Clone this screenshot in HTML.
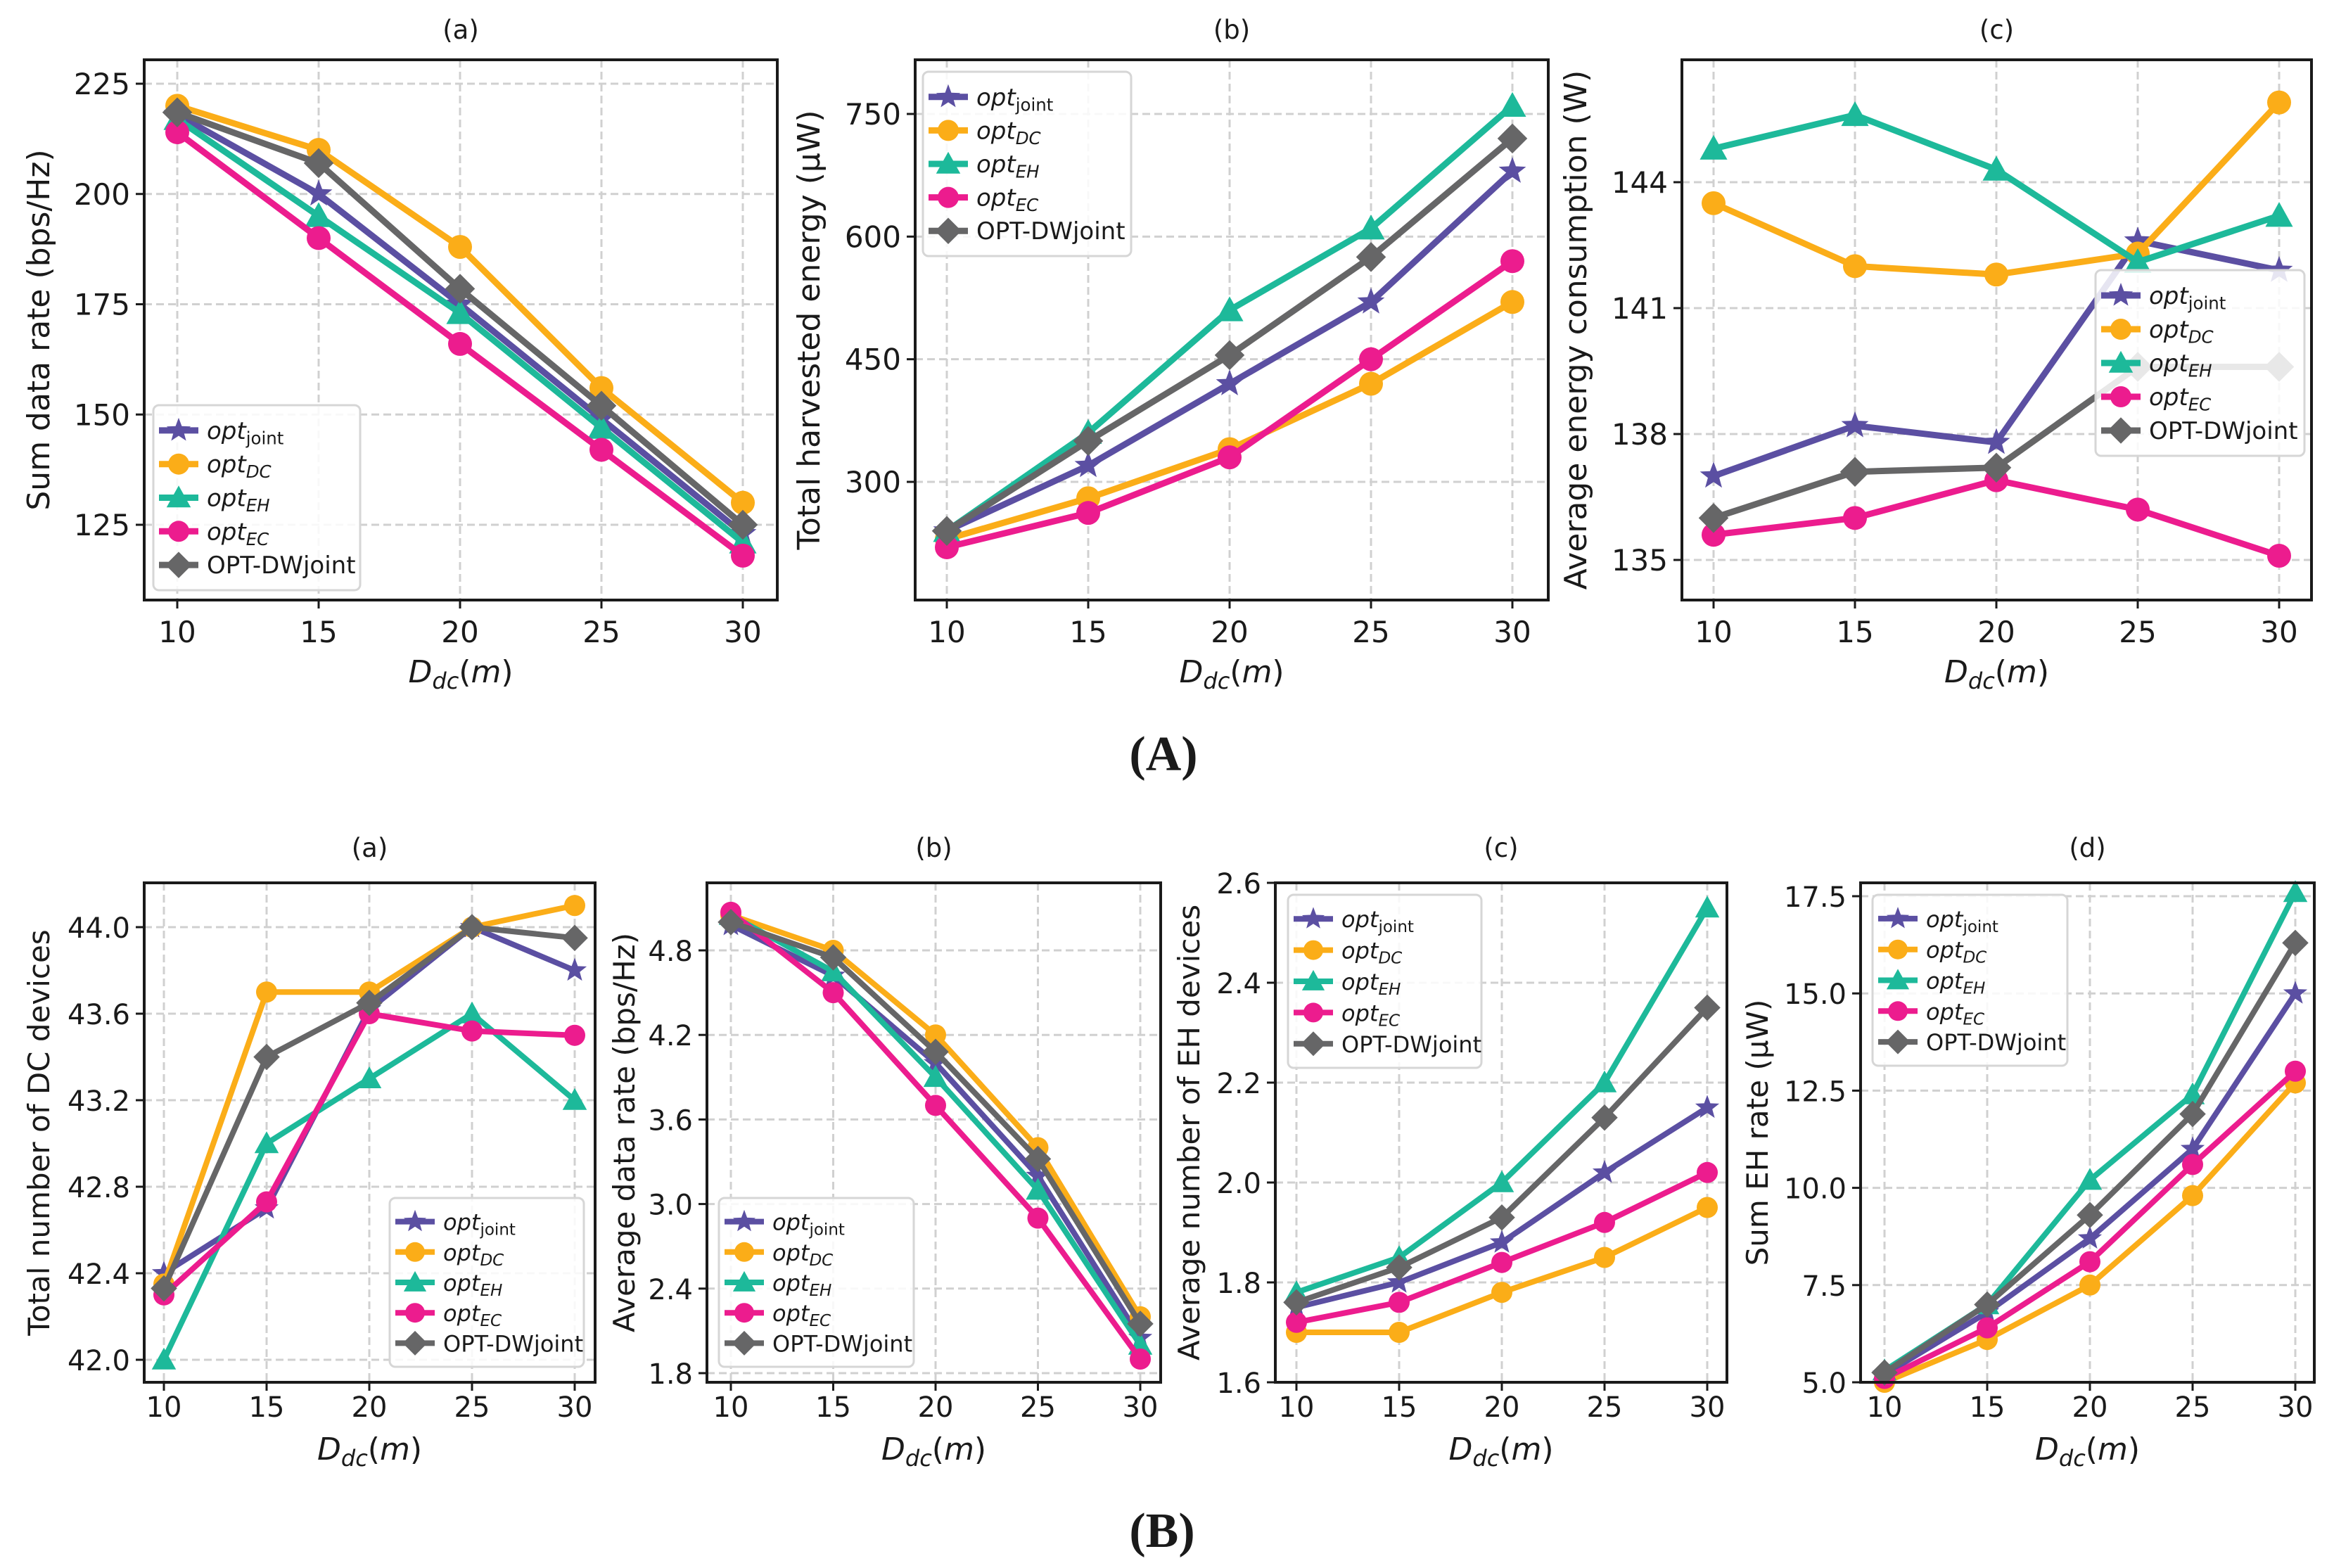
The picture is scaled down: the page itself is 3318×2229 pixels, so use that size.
<!DOCTYPE html>
<html><head><meta charset="utf-8"><style>
html,body{margin:0;padding:0;background:#fff}
svg{display:block}
text{font-family:"DejaVu Sans","Liberation Sans",sans-serif;fill:#1a1a1a}
</style></head><body>
<svg id="fig" xmlns="http://www.w3.org/2000/svg" width="3318" height="2229" viewBox="0 0 3318 2229">
<rect width="3318" height="2229" fill="#fff"/>
<text x="1654" y="1095" text-anchor="middle" style="font-family:'Liberation Serif',serif;font-weight:bold;font-size:70px">(A)</text>
<text x="1652" y="2199" text-anchor="middle" style="font-family:'Liberation Serif',serif;font-weight:bold;font-size:70px">(B)</text>
</svg>
<script>
const xCats=[10,15,20,25,30];
// Panel A(a) sum data rate
const aa_joint=[218,200,175,149,123];
const aa_dc=[220,210,188,156,130];
const aa_eh=[217,195,173,147,121];
const aa_ec=[214,190,166,142,118];
const aa_dw=[218.5,207,178.5,152,125];
const aa_ticks=[125,150,175,200,225];
// Panel A(b) harvested energy
const ab_joint=[240,320,420,520,680];
const ab_dc=[230,280,340,420,520];
const ab_eh=[240,360,510,610,760];
const ab_ec=[220,262,330,450,570];
const ab_dw=[240,350,455,575,720];
const ab_ticks=[300,450,600,750];
// Panel A(c) energy consumption
const ac_joint=[137.0,138.2,137.8,142.6,141.9];
const ac_dc=[143.5,142.0,141.8,142.3,145.9];
const ac_eh=[144.8,145.6,144.3,142.1,143.2];
const ac_ec=[135.6,136.0,136.9,136.2,135.1];
const ac_dw=[136.0,137.1,137.2,139.6,139.6];
const ac_ticks=[135,138,141,144];
// Panel B(a) DC devices
const ba_joint=[42.4,42.7,43.62,44.0,43.8];
const ba_dc=[42.35,43.7,43.7,44.0,44.1];
const ba_eh=[42.0,43.0,43.3,43.6,43.2];
const ba_ec=[42.3,42.73,43.6,43.52,43.5];
const ba_dw=[42.33,43.4,43.65,44.0,43.95];
const ba_ticks=[42.0,42.4,42.8,43.2,43.6,44.0];
// Panel B(b) average data rate
const bb_joint=[4.98,4.62,4.0,3.2,2.05];
const bb_dc=[5.05,4.8,4.2,3.4,2.2];
const bb_eh=[5.05,4.65,3.9,3.1,2.0];
const bb_ec=[5.07,4.5,3.7,2.9,1.9];
const bb_dw=[5.0,4.75,4.08,3.32,2.15];
const bb_ticks=[1.8,2.4,3.0,3.6,4.2,4.8];
// Panel B(c) EH devices
const bc_joint=[1.75,1.80,1.88,2.02,2.15];
const bc_dc=[1.70,1.70,1.78,1.85,1.95];
const bc_eh=[1.78,1.85,2.0,2.2,2.55];
const bc_ec=[1.72,1.76,1.84,1.92,2.02];
const bc_dw=[1.76,1.83,1.93,2.13,2.35];
const bc_ticks=[1.6,1.8,2.0,2.2,2.4,2.6];
// Panel B(d) sum EH rate
const bd_joint=[5.2,6.8,8.7,11.0,15.0];
const bd_dc=[5.0,6.1,7.5,9.8,12.7];
const bd_eh=[5.3,7.0,10.2,12.4,17.6];
const bd_ec=[5.1,6.4,8.1,10.6,13.0];
const bd_dw=[5.25,7.0,9.3,11.9,16.3];
const bd_ticks=[5.0,7.5,10.0,12.5,15.0,17.5];

const NS="http://www.w3.org/2000/svg";
const svg=document.getElementById('fig');
const COLORS={joint:'#5b4fa2',dc:'#fbad18',eh:'#1db99a',ec:'#ec1c8e',dw:'#666667'};
function mk(tag,attrs,parent){const e=document.createElementNS(NS,tag);for(const k in attrs)e.setAttribute(k,attrs[k]);(parent||svg).appendChild(e);return e;}

const panels=[
 {id:'a-a',title:'(a)',box:[205,85,1105,853],xt:[252,1056],y1:[225,119],y2:[125,746],ticks:aa_ticks,fmt:v=>String(v),
  series:[aa_joint,aa_dc,aa_eh,aa_ec,aa_dw],ylab:'Sum data rate (bps/Hz)',ylx:55,leg:[218,576,512,839],big:true},
 {id:'a-b',title:'(b)',box:[1301,85,2201,853],xt:[1346,2150],y1:[750,162],y2:[300,685],ticks:ab_ticks,fmt:v=>String(v),
  series:[ab_joint,ab_dc,ab_eh,ab_ec,ab_dw],ylab:'Total harvested energy (μW)',ylx:1150,leg:[1312,102,1608,364],big:true},
 {id:'a-c',title:'(c)',box:[2391,85,3286,853],xt:[2436,3240],y1:[144,259],y2:[135,796],ticks:ac_ticks,fmt:v=>String(v),
  series:[ac_joint,ac_dc,ac_eh,ac_ec,ac_dw],ylab:'Average energy consumption (W)',ylx:2240,leg:[2979,384,3276,648],big:true},
 {id:'b-a',title:'(a)',box:[205,1255,846,1965],xt:[233,817],y1:[44,1318],y2:[42,1933],ticks:ba_ticks,fmt:v=>v.toFixed(1),
  series:[ba_joint,ba_dc,ba_eh,ba_ec,ba_dw],ylab:'Total number of DC devices',ylx:55,leg:[554,1703,830,1943]},
 {id:'b-b',title:'(b)',box:[1005,1255,1650,1965],xt:[1039,1621],y1:[4.8,1351],y2:[1.8,1952],ticks:bb_ticks,fmt:v=>v.toFixed(1),
  series:[bb_joint,bb_dc,bb_eh,bb_ec,bb_dw],ylab:'Average data rate (bps/Hz)',ylx:887,leg:[1022,1703,1299,1943]},
 {id:'b-c',title:'(c)',box:[1813,1255,2455,1965],xt:[1843,2427],y1:[2.6,1255],y2:[1.6,1965],ticks:bc_ticks,fmt:v=>v.toFixed(1),
  series:[bc_joint,bc_dc,bc_eh,bc_ec,bc_dw],ylab:'Average number of EH devices',ylx:1690,leg:[1831,1272,2106,1518]},
 {id:'b-d',title:'(d)',box:[2645,1255,3290,1965],xt:[2679,3263],y1:[17.5,1274],y2:[5,1965],ticks:bd_ticks,fmt:v=>v.toFixed(1),
  series:[bd_joint,bd_dc,bd_eh,bd_ec,bd_dw],ylab:'Sum EH rate (μW)',ylx:2498,leg:[2662,1272,2939,1515]}
];
const keys=['joint','dc','eh','ec','dw'];

function marker(g,kind,cx,cy,r,color){
  let e;
  if(kind==='dc'||kind==='ec'){e=mk('circle',{cx:cx,cy:cy,r:r,fill:color},g);}
  else if(kind==='eh'){const h=r*1.15;e=mk('polygon',{points:`${cx},${cy-h} ${cx+h},${cy+h*0.8} ${cx-h},${cy+h*0.8}`,fill:color},g);}
  else if(kind==='dw'){const h=r*1.25;e=mk('polygon',{points:`${cx},${cy-h} ${cx+h},${cy} ${cx},${cy+h} ${cx-h},${cy}`,fill:color},g);}
  else {const pts=[];const R=r*1.2,ri=R*0.42;for(let i=0;i<10;i++){const a=-Math.PI/2+i*Math.PI/5;const rr=i%2?ri:R;pts.push((cx+rr*Math.cos(a)).toFixed(1)+','+(cy+rr*Math.sin(a)).toFixed(1));}e=mk('polygon',{points:pts.join(' '),fill:color},g);}
  return e;
}
function legendLabel(t,k,fs){
  if(k==='dw'){t.textContent='OPT-DWjoint';return;}
  const a=mk('tspan',{'font-style':'italic'},t);a.textContent='opt';
  const sub={joint:'joint',dc:'DC',eh:'EH',ec:'EC'}[k];
  const b=mk('tspan',{dy:fs*0.22,'font-size':fs*0.72,'font-style':k==='joint'?'normal':'italic'},t);b.textContent=sub;
}

panels.forEach(p=>{
  const g=mk('g',{});
  
  
  const [L,T,R,B]=p.box;
  const xs=i=>p.xt[0]+(p.xt[1]-p.xt[0])*(xCats[i]-xCats[0])/(xCats[4]-xCats[0]);
  const ys=v=>p.y1[1]+(p.y2[1]-p.y1[1])*(v-p.y1[0])/(p.y2[0]-p.y1[0]);
  const clip='clip-'+p.id;
  const cp=mk('clipPath',{id:clip},g);mk('rect',{x:L-20,y:T-20,width:R-L+40,height:B-T+40},cp);
  xCats.forEach((c,i)=>{const x=xs(i);
    const gl=mk('line',{x1:x,x2:x,y1:T,y2:B,stroke:'#d0d0d0','stroke-width':3,'stroke-dasharray':'11 6'},g);
    
    mk('line',{x1:x,x2:x,y1:B,y2:B+12,stroke:'#1a1a1a','stroke-width':3},g);
    const tl=mk('text',{x:x,y:p.big?913:2014,'text-anchor':'middle','font-size':p.big?42:40},g);tl.textContent=c;
    
  });
  p.ticks.forEach(v=>{const y=ys(v);
    const gl=mk('line',{x1:L,x2:R,y1:y,y2:y,stroke:'#d0d0d0','stroke-width':3,'stroke-dasharray':'11 6'},g);
    
    mk('line',{x1:L-12,x2:L,y1:y,y2:y,stroke:'#1a1a1a','stroke-width':3},g);
    const tl=mk('text',{x:L-20,y:y+15,'text-anchor':'end','font-size':p.big?42:40},g);tl.textContent=p.fmt(v);
    
  });
  const sg=mk('g',{'clip-path':`url(#${clip})`},g);
  p.series.forEach((arr,si)=>{
    const k=keys[si],col=COLORS[k];
    const s=mk('g',{},sg);
    
    
    const pts=arr.map((v,i)=>xs(i).toFixed(1)+','+ys(v).toFixed(1)).join(' ');
    mk('polyline',{points:pts,fill:'none',stroke:col,'stroke-width':p.big?9:8,'stroke-linejoin':'round'},s);
    arr.forEach((v,i)=>{const m=marker(s,k,xs(i),ys(v),p.big?17:15,col);
      });
  });
  const fr=mk('rect',{x:L,y:T,width:R-L,height:B-T,fill:'none',stroke:'#1a1a1a','stroke-width':4},g);
  
  const tt=mk('text',{x:(L+R)/2,y:p.big?55:1218,'text-anchor':'middle','font-size':37},g);tt.textContent=p.title;
  
  const xl=mk('text',{x:(L+R)/2,y:p.big?970:2075,'text-anchor':'middle','font-size':44},g);
  
  let t1=mk('tspan',{'font-style':'italic'},xl);t1.textContent='D';
  let t2=mk('tspan',{'font-style':'italic','font-size':32,dy:9},xl);t2.textContent='dc';
  let t3=mk('tspan',{dy:-9},xl);t3.textContent='(';
  let t4=mk('tspan',{'font-style':'italic'},xl);t4.textContent='m';
  let t5=mk('tspan',{},xl);t5.textContent=')';
  const cy=(T+B)/2;
  const yl=mk('text',{x:p.ylx,y:cy,'text-anchor':'middle','font-size':p.big?44:42,transform:`rotate(-90 ${p.ylx} ${cy})`,dy:15},g);
  
  yl.textContent=p.ylab;
  const [lx,ly,lx2,ly2]=p.leg;
  const lg=mk('g',{},g);
  
  
  mk('rect',{x:lx,y:ly,width:lx2-lx,height:ly2-ly,rx:8,fill:'#fff','fill-opacity':0.85,stroke:'#d6d6d6','stroke-width':3},lg);
  const n=5,step=(ly2-ly-24)/n,fs=p.big?34:32;
  keys.forEach((k,i)=>{
    const yy=ly+12+step*(i+0.5);
    const e=mk('g',{},lg);
    
    
    mk('line',{x1:lx+8,x2:lx+64,y1:yy,y2:yy,stroke:COLORS[k],'stroke-width':p.big?9:8},e);
    marker(e,k,lx+36,yy,p.big?15:14,COLORS[k]);
    const t=mk('text',{x:lx+76,y:yy+12,'font-size':fs},e);
    legendLabel(t,k,fs);
  });
});
</script>
</body></html>
